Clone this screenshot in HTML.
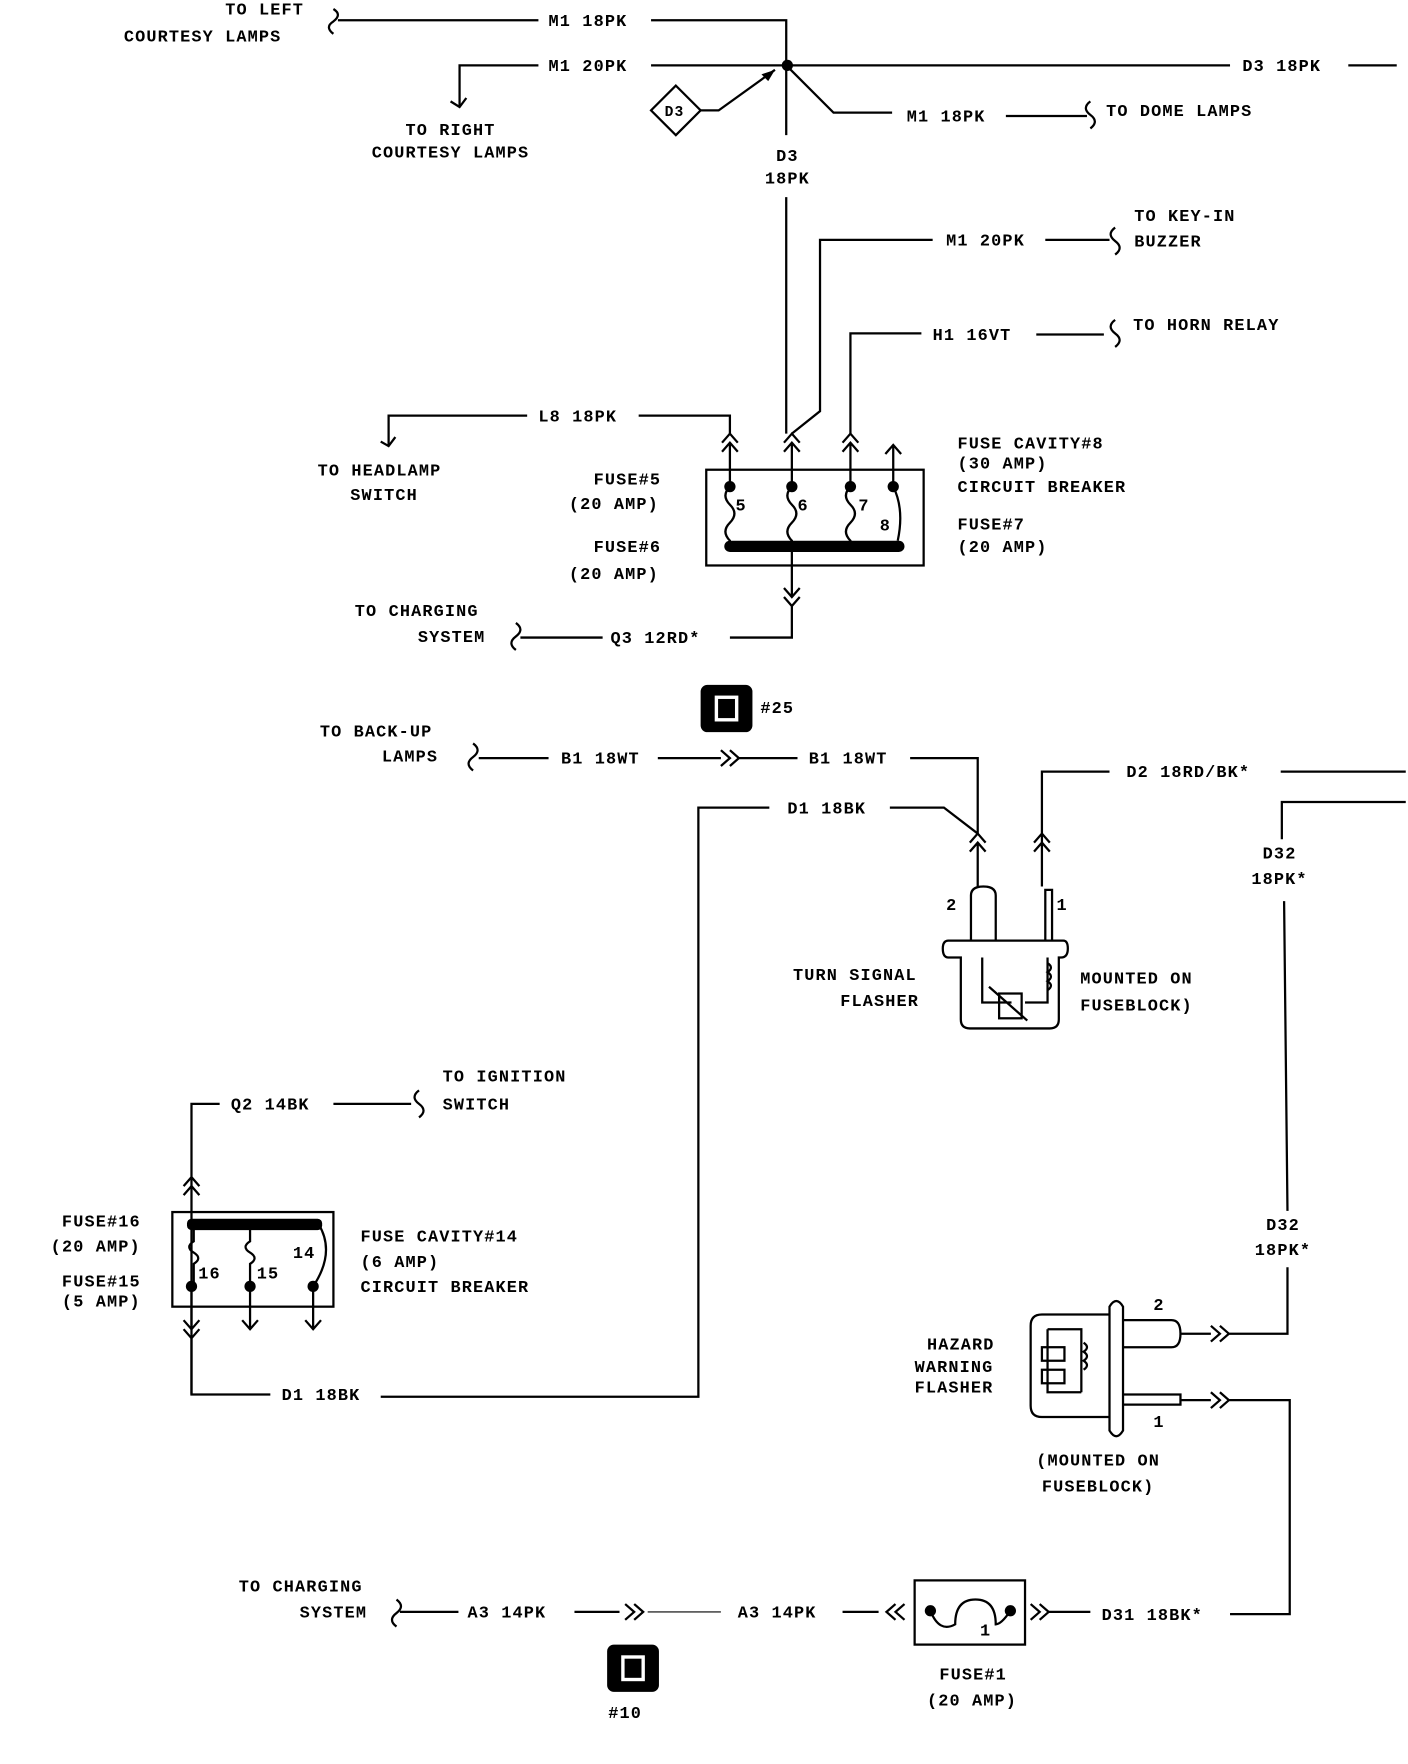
<!DOCTYPE html>
<html><head><meta charset="utf-8"><style>
html,body{margin:0;padding:0;background:#fff;}
svg{display:block}
text{font-family:"Liberation Mono",monospace;font-size:15px;font-weight:bold;fill:#000;letter-spacing:1px}
</style></head><body>
<svg width="1408" height="1764" viewBox="0 0 1250 1566" preserveAspectRatio="none" xmlns="http://www.w3.org/2000/svg">
<g fill="none" stroke="#000" stroke-width="2">
<path d="M300 18H478M578 18H698V58"/>
<path d="M296 8q8 5 0 11q-8 5 0 11"/>
<path d="M408 95V58H478M578 58H1092M1197 58H1240"/>
<path d="M400 90l8 5l6-8"/>
<path d="M600 76L622 98L600 120L578 98Z"/>
<path d="M622 98H638L688 62"/>
<path d="M698 58V120M698 175V385"/>
<path d="M698 58L740 100H792M893 103H965"/>
<path d="M968 90q-8 6 0 12q8 6 0 12"/>
<path d="M703 385L728 365V213H828M928 213H985"/>
<path d="M990 202q-8 6 0 12q8 6 0 12"/>
<path d="M755 385V296H818M920 297H980"/>
<path d="M990 284q-8 6 0 12q8 6 0 12"/>
<path d="M567 369H648V385M468 369H345V395"/>
<path d="M338 392l7 4l6-8"/>
<path d="M641 393l7-8l7 8M641 401l7-8l7 8M648 393V432"/>
<path d="M696 393l7-8l7 8M696 401l7-8l7 8M703 393V432"/>
<path d="M748 393l7-8l7 8M748 401l7-8l7 8M755 393V432"/>
<path d="M786 403l7-8l7 8M793 396V432"/>
<rect x="627" y="417" width="193" height="85"/>
<path d="M648 432q-8 8 0 16q8 8 0 16q-8 8 0 16V485M703 432q-8 8 0 16q8 8 0 16q-8 8 0 16V485M755 432q-8 8 0 16q8 8 0 16q-8 8 0 16V485"/>
<path d="M793 432q10 20 4 48"/>
<path d="M703 485V530M696 522l7 8l7-8M696 530l7 8l7-8M703 538V566H648"/>
<path d="M535 566H462"/>
<path d="M458 553q8 6 0 12q-8 6 0 12"/>
</g>
<path d="M688 62l-12 4l6 6Z" fill="#000"/>
<circle cx="699" cy="58" r="5" fill="#000"/>
<g fill="#000"><circle cx="648" cy="432" r="5"/><circle cx="703" cy="432" r="5"/><circle cx="755" cy="432" r="5"/><circle cx="793" cy="432" r="5"/></g>
<rect x="643" y="480" width="160" height="10" rx="5" fill="#000"/>
<text x="200" y="13">TO LEFT</text>
<text x="110" y="37">COURTESY LAMPS</text>
<text x="487" y="23">M1 18PK</text>
<text x="487" y="63">M1 20PK</text>
<text x="1103" y="63">D3 18PK</text>
<text x="360" y="120">TO RIGHT</text>
<text x="330" y="140">COURTESY LAMPS</text>
<text x="590" y="103" style="font-size:13px">D3</text>
<text x="689" y="143">D3</text>
<text x="679" y="163">18PK</text>
<text x="805" y="108">M1 18PK</text>
<text x="982" y="103">TO DOME LAMPS</text>
<text x="840" y="218">M1 20PK</text>
<text x="1007" y="196">TO KEY-IN</text>
<text x="1007" y="219">BUZZER</text>
<text x="828" y="302">H1 16VT</text>
<text x="1006" y="293">TO HORN RELAY</text>
<text x="478" y="374">L8 18PK</text>
<text x="282" y="422">TO HEADLAMP</text>
<text x="311" y="444">SWITCH</text>
<text x="527" y="430">FUSE#5</text>
<text x="505" y="452">(20 AMP)</text>
<text x="527" y="490">FUSE#6</text>
<text x="505" y="514">(20 AMP)</text>
<text x="653" y="453">5</text><text x="708" y="453">6</text><text x="762" y="453">7</text><text x="781" y="471">8</text>
<text x="850" y="398">FUSE CAVITY#8</text>
<text x="850" y="416">(30 AMP)</text>
<text x="850" y="437">CIRCUIT BREAKER</text>
<text x="850" y="470">FUSE#7</text>
<text x="850" y="490">(20 AMP)</text>
<text x="315" y="547">TO CHARGING</text>
<text x="371" y="570">SYSTEM</text>
<text x="542" y="571">Q3 12RD*</text>
<rect x="622" y="608" width="46" height="42" rx="6" fill="#000"/>
<rect x="636" y="619" width="18" height="20" fill="none" stroke="#fff" stroke-width="3"/>
<text x="675" y="633">#25</text>
<rect x="539" y="1460" width="46" height="42" rx="6" fill="#000"/>
<rect x="553" y="1471" width="18" height="20" fill="none" stroke="#fff" stroke-width="3"/>
<text x="540" y="1525">#10</text>
<g fill="none" stroke="#000" stroke-width="2">
<path d="M420 660q8 6 0 12q-8 6 0 12"/>
<path d="M425 673H487M584 673H640M640 666l8 7l-8 7M648 666l8 7l-8 7M656 673H708M808 673H868V740"/>
<path d="M861 748l7-8l7 8M861 756l7-8l7 8M868 748V787"/>
<path d="M683 717H620V1240H338M240 1238H170V1045"/>
<path d="M790 717H838L868 740"/>
<path d="M925 787V740M918 748l7-8l7 8M918 756l7-8l7 8M925 748V685H985M1137 685H1248"/>
<path d="M1248 712H1138V745M1140 800L1143 1075M1143 1125V1184H1090M1075 1177l8 7l-8 7M1083 1177l8 7l-8 7M1048 1184H1075"/>
<path d="M1048 1243H1075M1075 1236l8 7l-8 7M1083 1236l8 7l-8 7M1090 1243H1145V1433H1092"/>
<path d="M862 835V795q0-8 11-8q11 0 11 8V835M928 835V790H934V835"/>
<path d="M842 835H944q4 0 4 7q0 8-6 8H940V905q0 8-8 8H861q-8 0-8-8V850H842q-5 0-5-8q0-7 5-7Z"/>
<path d="M872 850V890H898M930 850V890H910M878 876L912 906M930 855q6 4 0 8q6 4 0 8q6 4 0 8"/>
<rect x="887" y="882" width="20" height="22"/>
<path d="M195 980H170V1045M163 1053l7-8l7 8M163 1061l7-8l7 8M296 980H365"/>
<path d="M372 968q-8 6 0 12q8 6 0 12"/>
<rect x="153" y="1076" width="143" height="84"/>
<path d="M172 1087V1102q-8 5 0 10q8 5 0 10V1142M222 1087V1102q-8 5 0 10q8 5 0 10V1142M283 1087q15 25-5 55"/>
<path d="M170 1142V1180M163 1172l7 8l7-8M163 1180l7 8l7-8M170 1188V1238M222 1142V1180M215 1172l7 8l7-8M278 1142V1180M271 1172l7 8l7-8"/>
<path d="M985 1167H925q-10 0-10 10V1248q0 10 10 10H985"/>
<path d="M985 1160q6-10 12 0V1270q-6 10-12 0Z"/>
<path d="M997 1172H1040q8 0 8 12q0 12-8 12H997M997 1238H1048V1247H997"/>
<path d="M930 1180V1236H960M930 1180H960V1236M962 1192q6 4 0 8q6 4 0 8q6 4 0 8"/>
<rect x="925" y="1196" width="20" height="12"/><rect x="925" y="1216" width="20" height="12"/>
<path d="M352 1420q8 6 0 12q-8 6 0 12M355 1431H407M510 1431H550M555 1424l8 7l-8 7M563 1424l8 7l-8 7"/>
<path d="M575 1431H640" stroke-width="1"/>
<path d="M748 1431H780M795 1424l-8 7l8 7M803 1424l-8 7l8 7"/>
<rect x="812" y="1403" width="98" height="57"/>
<path d="M826 1430q8 20 22 12q0-22 18-22q18 0 18 22q5 0 13-12"/>
<path d="M915 1424l8 7l-8 7M923 1424l8 7l-8 7M931 1431H968"/>
</g>
<g fill="#000"><circle cx="170" cy="1142" r="5"/><circle cx="222" cy="1142" r="5"/><circle cx="278" cy="1142" r="5"/><circle cx="826" cy="1430" r="5"/><circle cx="897" cy="1430" r="5"/></g>
<rect x="166" y="1082" width="120" height="10" rx="4" fill="#000"/>
<text x="284" y="654">TO BACK-UP</text>
<text x="339" y="676">LAMPS</text>
<text x="498" y="678">B1 18WT</text>
<text x="718" y="678">B1 18WT</text>
<text x="699" y="722">D1 18BK</text>
<text x="1000" y="690">D2 18RD/BK*</text>
<text x="1121" y="762">D32</text>
<text x="1111" y="785">18PK*</text>
<text x="840" y="808">2</text><text x="938" y="808">1</text>
<text x="704" y="870">TURN SIGNAL</text>
<text x="746" y="893">FLASHER</text>
<text x="959" y="873">MOUNTED ON</text>
<text x="959" y="897">FUSEBLOCK)</text>
<text x="205" y="985">Q2 14BK</text>
<text x="393" y="960">TO IGNITION</text>
<text x="393" y="985">SWITCH</text>
<text x="55" y="1089">FUSE#16</text>
<text x="45" y="1111">(20 AMP)</text>
<text x="55" y="1142">FUSE#15</text>
<text x="55" y="1160">(5 AMP)</text>
<text x="176" y="1135">16</text><text x="228" y="1135">15</text><text x="260" y="1117">14</text>
<text x="320" y="1102">FUSE CAVITY#14</text>
<text x="320" y="1125">(6 AMP)</text>
<text x="320" y="1147">CIRCUIT BREAKER</text>
<text x="250" y="1243">D1 18BK</text>
<text x="1124" y="1092">D32</text>
<text x="1114" y="1114">18PK*</text>
<text x="1024" y="1163">2</text><text x="1024" y="1267">1</text>
<text x="823" y="1198">HAZARD</text>
<text x="812" y="1218">WARNING</text>
<text x="812" y="1236">FLASHER</text>
<text x="920" y="1301">(MOUNTED ON</text>
<text x="925" y="1324">FUSEBLOCK)</text>
<text x="978" y="1438">D31 18BK*</text>
<text x="212" y="1413">TO CHARGING</text>
<text x="266" y="1436">SYSTEM</text>
<text x="415" y="1436">A3 14PK</text>
<text x="655" y="1436">A3 14PK</text>
<text x="870" y="1452">1</text>
<text x="834" y="1491">FUSE#1</text>
<text x="823" y="1514">(20 AMP)</text>
</svg>
</body></html>
